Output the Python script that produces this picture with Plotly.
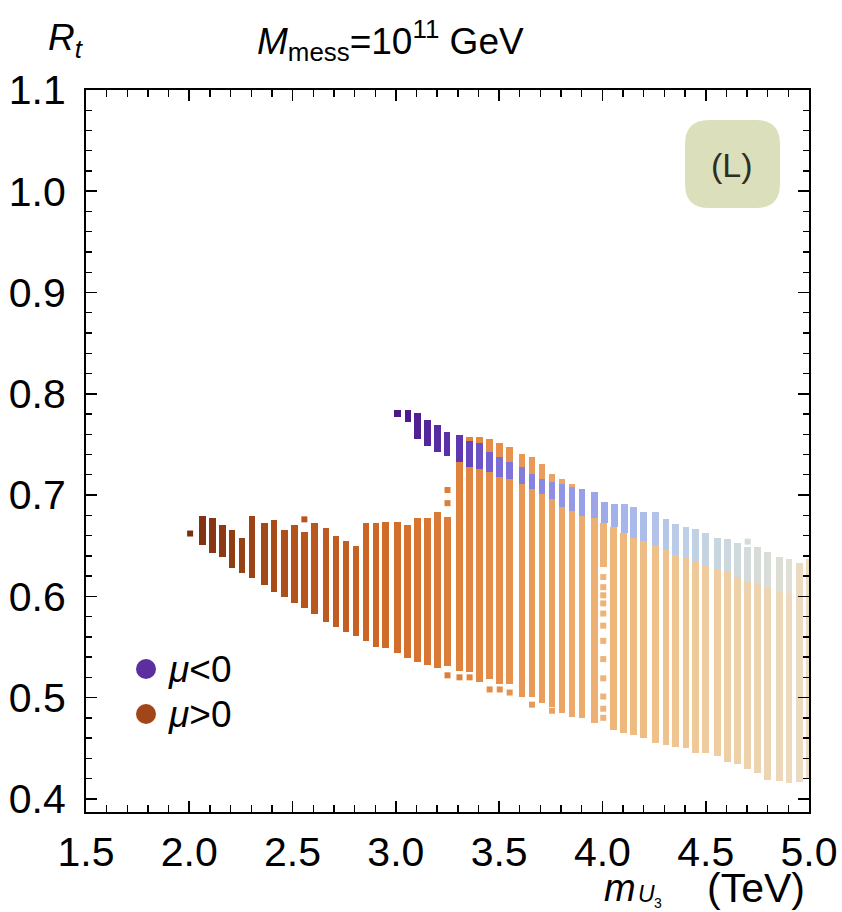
import plotly.graph_objects as go

# ---------------- data ----------------
# mu > 0 : vertical columns (x = m_U3 in TeV, lo/hi = R_t range)
pos_x = [2.064, 2.112, 2.161, 2.206, 2.255, 2.303, 2.363, 2.411, 2.460, 2.508,
         2.557, 2.605, 2.662, 2.710, 2.759, 2.807, 2.856, 2.904, 2.949, 3.007,
         3.056, 3.104, 3.153, 3.201, 3.250, 3.308, 3.357, 3.406, 3.454, 3.503,
         3.551, 3.611, 3.659, 3.708, 3.756, 3.805, 3.853, 3.901, 3.961, 4.004,
         4.053, 4.101, 4.150, 4.198, 4.258, 4.307, 4.355, 4.404, 4.452, 4.500,
         4.557, 4.606, 4.654, 4.703, 4.751, 4.800, 4.856, 4.904, 4.953, 5.000]
pos_lo = [0.651, 0.643, 0.639, 0.628, 0.623, 0.618, 0.611, 0.604, 0.599, 0.593,
          0.588, 0.583, 0.575, 0.570, 0.565, 0.561, 0.556, 0.550, 0.549, 0.544,
          0.539, 0.535, 0.532, 0.529, 0.531, 0.526, 0.525, 0.515, 0.518, 0.513,
          0.513, 0.501, 0.501, 0.495, 0.491, 0.485, 0.481, 0.480, 0.475, 0.629,
          0.468, 0.465, 0.463, 0.460, 0.455, 0.453, 0.451, 0.450, 0.445, 0.445,
          0.442, 0.436, 0.434, 0.429, 0.426, 0.419, 0.418, 0.416, 0.417, 0.420]
pos_hi = [0.679, 0.677, 0.670, 0.665, 0.658, 0.679, 0.672, 0.675, 0.665, 0.670,
          0.664, 0.672, 0.667, 0.660, 0.655, 0.650, 0.672, 0.672, 0.673, 0.673,
          0.670, 0.677, 0.677, 0.683, 0.678, 0.733, 0.757, 0.757, 0.755, 0.751,
          0.747, 0.741, 0.738, 0.731, 0.721, 0.716, 0.711, 0.690, 0.690, 0.672,
          0.668, 0.663, 0.658, 0.655, 0.651, 0.646, 0.641, 0.639, 0.634, 0.631,
          0.626, 0.624, 0.619, 0.615, 0.612, 0.608, 0.604, 0.602, 0.633, 0.637]
# mu > 0 : isolated points
pos_pt_x = [2.004, 2.557, 3.250, 3.250, 3.250, 3.308, 3.357, 3.454, 3.503, 3.551,
            3.659, 3.756,
            4.004, 4.004, 4.004, 4.004, 4.004, 4.004, 4.004, 4.004, 4.004, 4.004,
            4.004, 4.004]
pos_pt_y = [0.662, 0.676, 0.705, 0.692, 0.522, 0.520, 0.520, 0.508, 0.508, 0.505,
            0.493, 0.487,
            0.619, 0.609, 0.601, 0.593, 0.583, 0.571, 0.556, 0.538, 0.519, 0.501,
            0.489, 0.480]

# mu < 0 : vertical columns
neg_x = [3.009, 3.058, 3.106, 3.154, 3.203, 3.248, 3.308, 3.357, 3.406, 3.454,
         3.503, 3.551, 3.611, 3.659, 3.708, 3.756, 3.805, 3.853, 3.901, 3.961,
         4.009, 4.058, 4.106, 4.150, 4.198, 4.258, 4.307, 4.355, 4.404, 4.452,
         4.500, 4.557, 4.606, 4.654, 4.703, 4.751, 4.800, 4.856, 4.904]
neg_lo = [0.777, 0.772, 0.755, 0.748, 0.743, 0.739, 0.733, 0.728, 0.726, 0.723,
          0.718, 0.716, 0.711, 0.706, 0.701, 0.696, 0.688, 0.684, 0.679, 0.677,
          0.672, 0.668, 0.663, 0.658, 0.655, 0.651, 0.646, 0.641, 0.639, 0.634,
          0.631, 0.626, 0.624, 0.619, 0.615, 0.612, 0.608, 0.604, 0.602]
neg_hi = [0.784, 0.784, 0.781, 0.774, 0.769, 0.762, 0.759, 0.753, 0.751, 0.743,
          0.738, 0.733, 0.728, 0.721, 0.716, 0.713, 0.711, 0.708, 0.706, 0.703,
          0.693, 0.691, 0.691, 0.688, 0.683, 0.683, 0.676, 0.671, 0.668, 0.666,
          0.663, 0.658, 0.657, 0.653, 0.649, 0.649, 0.644, 0.639, 0.637]
neg_pt_x = [4.703]
neg_pt_y = [0.654]

x_ticks = [1.5, 2.0, 2.5, 3.0, 3.5, 4.0, 4.5, 5.0]
y_ticks = [0.4, 0.5, 0.6, 0.7, 0.8, 0.9, 1.0, 1.1]

# ---------------- styling ----------------
pos_scale = [[0.0, "#7a2f0f"], [0.17, "#b4521c"], [0.33, "#d26c28"],
             [0.5, "#e68f4c"], [0.67, "#eeb476"], [0.83, "#efcb9c"],
             [1.0, "#ecdcc4"]]
neg_scale = [[0.0, "#4a1585"], [0.15, "#5d36b0"], [0.25, "#7a6ed8"],
             [0.4, "#9094e6"], [0.55, "#a6b4ea"], [0.7, "#bccfe6"],
             [0.85, "#d3dcda"], [1.0, "#e4e0d2"]]
FONT = "Liberation Sans, Arial, sans-serif"
BW = 0.032

# plot-area geometry (pixels) used to place the decorations
L, R, T, B = 86, 809, 90, 812
W, H = 842, 912
def px(xp):
    return (xp - L) / (R - L)
def py(yp):
    return (B - yp) / (B - T)

fig = go.Figure()
fig.add_trace(go.Bar(
    x=pos_x, y=[h - l for h, l in zip(pos_hi, pos_lo)], base=pos_lo, width=BW,
    marker=dict(color=pos_x, colorscale=pos_scale, cmin=2.0, cmax=5.0,
                line=dict(width=0)),
    showlegend=False, hoverinfo="skip"))
fig.add_trace(go.Scatter(
    x=pos_pt_x, y=pos_pt_y, mode="markers",
    marker=dict(symbol="square", size=6, color=pos_pt_x, colorscale=pos_scale,
                cmin=2.0, cmax=5.0, line=dict(width=0)),
    showlegend=False, hoverinfo="skip"))
fig.add_trace(go.Bar(
    x=neg_x, y=[h - l for h, l in zip(neg_hi, neg_lo)], base=neg_lo, width=BW,
    marker=dict(color=neg_x, colorscale=neg_scale, cmin=3.0, cmax=5.0,
                line=dict(width=0)),
    showlegend=False, hoverinfo="skip"))
fig.add_trace(go.Scatter(
    x=neg_pt_x, y=neg_pt_y, mode="markers",
    marker=dict(symbol="square", size=6, color=neg_pt_x, colorscale=neg_scale,
                cmin=3.0, cmax=5.0, line=dict(width=0)),
    showlegend=False, hoverinfo="skip"))

axis_common = dict(
    showline=True, linecolor="black", linewidth=2, mirror="ticks",
    ticks="inside", ticklen=11, tickwidth=1.6, tickcolor="black",
    showgrid=False, zeroline=False, automargin=False,
    tickfont=dict(family=FONT, size=41, color="black"),
)
fig.update_xaxes(range=[1.5, 5.0], tickvals=x_ticks,
                 ticktext=[f"{v:.1f}" for v in x_ticks],
                 minor=dict(dtick=0.1, tick0=1.5, ticks="inside", ticklen=7,
                            tickwidth=1.4, tickcolor="black"),
                 ticklabelstandoff=3, **axis_common)
fig.update_yaxes(range=[0.387, 1.1], tickvals=y_ticks,
                 ticktext=[f"{v:.1f}" for v in y_ticks],
                 minor=dict(dtick=0.02, tick0=0.4, ticks="inside", ticklen=6,
                            tickwidth=1.4, tickcolor="black"),
                 ticklabelstandoff=10, **axis_common)

# rounded "(L)" badge in paper coordinates
x0, x1, y0, y1 = px(685), px(780), py(208), py(120)
rx, ry = 24 / (R - L), 24 / (B - T)
badge = (f"M {x0+rx},{y0} L {x1-rx},{y0} Q {x1},{y0} {x1},{y0+ry} "
         f"L {x1},{y1-ry} Q {x1},{y1} {x1-rx},{y1} L {x0+rx},{y1} "
         f"Q {x0},{y1} {x0},{y1-ry} L {x0},{y0+ry} Q {x0},{y0} {x0+rx},{y0} Z")
shapes = [dict(type="path", path=badge, xref="paper", yref="paper",
               fillcolor="#dcdfbc", line=dict(width=0), layer="above")]
# legend dots
leg_y = [py(669), py(714)]
for yy, col in zip(leg_y, ["#5b2fa0", "#a2461a"]):
    shapes.append(dict(type="circle", xref="paper", yref="paper",
                       xsizemode="pixel", ysizemode="pixel",
                       xanchor=px(146), yanchor=yy, x0=-10, x1=10, y0=-10, y1=10,
                       fillcolor=col, line=dict(width=0)))

def ann(text, xp, yp, size, xanchor="center", color="black"):
    return dict(text=text, x=px(xp), y=py(yp), xref="paper", yref="paper",
                showarrow=False, xanchor=xanchor, yanchor="middle",
                borderpad=0, font=dict(family=FONT, size=size, color=color))

annotations = [
    ann("(L)", 732, 165, 34, color="#2e2e22"),
    ann("<i>μ</i>&lt;0", 167, 669, 37, xanchor="left"),
    ann("<i>μ</i>&gt;0", 167, 714, 37, xanchor="left"),
    ann("<i>R<sub>t</sub></i>", 66, 40, 37),
    ann("<i>M</i><sub>mess</sub>=10<sup>11</sup> GeV", 390, 40, 37),
    # x-axis label: m_{U_3} (TeV)
    ann("<i>m</i>", 603, 888, 38, xanchor="left"),
    ann("<i>U</i>", 637, 894, 23, xanchor="left"),
    ann("3", 653, 903, 14, xanchor="left"),
    ann("(TeV)", 806, 888, 41, xanchor="right"),
]

fig.update_layout(
    width=W, height=H, barmode="overlay", bargap=0,
    margin=dict(l=L, r=W - R, t=T, b=H - B, autoexpand=False),
    paper_bgcolor="white", plot_bgcolor="white",
    shapes=shapes, annotations=annotations,
)

fig.write_html("out.html",
               config={"displayModeBar": False, "staticPlot": True},
               post_script="document.body.style.margin='0';"
                           "document.body.style.overflow='hidden';")
